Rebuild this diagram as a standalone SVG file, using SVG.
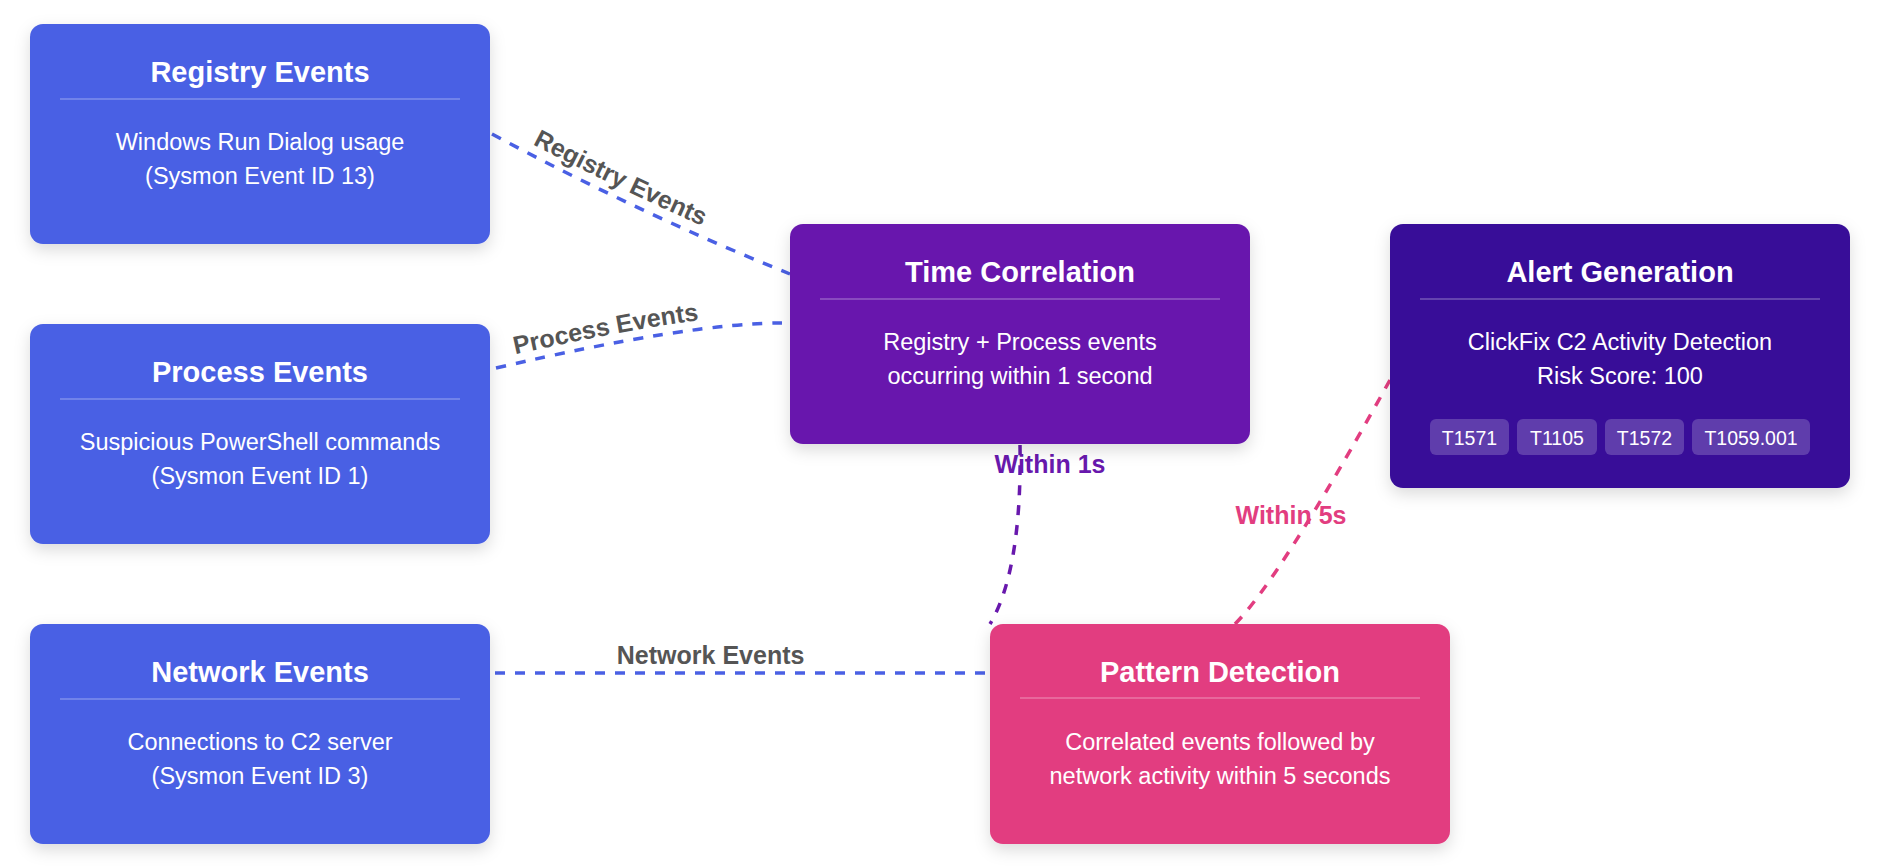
<svg xmlns="http://www.w3.org/2000/svg" width="1880" height="868" viewBox="0 0 1880 868">
  <defs>
    <filter id="shadow" x="-10%" y="-10%" width="120%" height="130%">
      <feDropShadow dx="0" dy="6" stdDeviation="8" flood-color="#000000" flood-opacity="0.14"/>
    </filter>
    <path id="p-reg" d="M 492 134 Q 641 214 790 274"/>
    <path id="p-proc" d="M 496 368 Q 690 323 782 323"/>
    <path id="p-net" d="M 495 673 L 985 673"/>
  </defs>
  <style>
    .box { filter: url(#shadow); }
    .blue { fill: #4a60e4; }
    .purple { fill: #6818ad; }
    .indigo { fill: #371098; }
    .pink { fill: #e23d80; }
    .title { font-family: "Liberation Sans", Arial, sans-serif; font-weight: bold; font-size: 29px; fill: #ffffff; text-anchor: middle; }
    .body { font-family: "Liberation Sans", Arial, sans-serif; font-size: 23.5px; fill: #ffffff; text-anchor: middle; }
    .divider { stroke: #ffffff; stroke-opacity: 0.3; stroke-width: 1.6; }
    .tag { fill: #ffffff; fill-opacity: 0.2; }
    .tagtext { font-family: "Liberation Sans", Arial, sans-serif; font-size: 19.5px; fill: #ffffff; text-anchor: middle; }
    .conn { fill: none; stroke-width: 3.5; stroke-dasharray: 10 10; }
    .c-blue { stroke: #4a60e4; }
    .c-purple { stroke: #6818ad; }
    .c-pink { stroke: #e23d80; }
    .label { font-family: "Liberation Sans", Arial, sans-serif; font-weight: bold; font-size: 25px; text-anchor: middle; }
    .l-gray { fill: #555555; }
    .l-purple { fill: #6818ad; }
    .l-pink { fill: #e23d80; }
  </style>

  <g id="connectors">
    <use href="#p-reg" class="conn c-blue"/>
    <use href="#p-proc" class="conn c-blue"/>
    <use href="#p-net" class="conn c-blue"/>
    <path class="conn c-purple" d="M 1020 445 Q 1022 570 990 624"/>
    <path class="conn c-pink" d="M 1235 624 Q 1279 580 1390 380"/>
    <text class="label l-gray" dy="-10"><textPath href="#p-reg" startOffset="41%">Registry Events</textPath></text>
    <text class="label l-gray" dy="-9"><textPath href="#p-proc" startOffset="39.5%">Process Events</textPath></text>
    <text class="label l-gray" dy="-9"><textPath href="#p-net" startOffset="44%">Network Events</textPath></text>
    <text class="label l-purple" x="1050" y="473">Within 1s</text>
    <text class="label l-pink" x="1291" y="524">Within 5s</text>
  </g>

  <g id="node-registry">
    <rect class="box blue" x="30" y="24" width="460" height="220" rx="13"/>
    <text class="title" x="260" y="82">Registry Events</text>
    <line class="divider" x1="60" y1="99" x2="460" y2="99"/>
    <text class="body" x="260" y="150">Windows Run Dialog usage</text>
    <text class="body" x="260" y="184">(Sysmon Event ID 13)</text>
  </g>

  <g id="node-process">
    <rect class="box blue" x="30" y="324" width="460" height="220" rx="13"/>
    <text class="title" x="260" y="382">Process Events</text>
    <line class="divider" x1="60" y1="399" x2="460" y2="399"/>
    <text class="body" x="260" y="450">Suspicious PowerShell commands</text>
    <text class="body" x="260" y="484">(Sysmon Event ID 1)</text>
  </g>

  <g id="node-network">
    <rect class="box blue" x="30" y="624" width="460" height="220" rx="13"/>
    <text class="title" x="260" y="682">Network Events</text>
    <line class="divider" x1="60" y1="699" x2="460" y2="699"/>
    <text class="body" x="260" y="750">Connections to C2 server</text>
    <text class="body" x="260" y="784">(Sysmon Event ID 3)</text>
  </g>

  <g id="node-time-correlation">
    <rect class="box purple" x="790" y="224" width="460" height="220" rx="13"/>
    <text class="title" x="1020" y="282">Time Correlation</text>
    <line class="divider" x1="820" y1="299" x2="1220" y2="299"/>
    <text class="body" x="1020" y="350">Registry + Process events</text>
    <text class="body" x="1020" y="384">occurring within 1 second</text>
  </g>

  <g id="node-alert">
    <rect class="box indigo" x="1390" y="224" width="460" height="264" rx="13"/>
    <text class="title" x="1620" y="282">Alert Generation</text>
    <line class="divider" x1="1420" y1="299" x2="1820" y2="299"/>
    <text class="body" x="1620" y="350">ClickFix C2 Activity Detection</text>
    <text class="body" x="1620" y="384">Risk Score: 100</text>
    <rect class="tag" x="1430" y="419" width="79" height="36" rx="6"/>
    <text class="tagtext" x="1469.5" y="445">T1571</text>
    <rect class="tag" x="1517" y="419" width="80" height="36" rx="6"/>
    <text class="tagtext" x="1557" y="445">T1105</text>
    <rect class="tag" x="1605" y="419" width="79" height="36" rx="6"/>
    <text class="tagtext" x="1644.5" y="445">T1572</text>
    <rect class="tag" x="1692" y="419" width="118" height="36" rx="6"/>
    <text class="tagtext" x="1751" y="445">T1059.001</text>
  </g>

  <g id="node-pattern">
    <rect class="box pink" x="990" y="624" width="460" height="220" rx="13"/>
    <text class="title" x="1220" y="682">Pattern Detection</text>
    <line class="divider" x1="1020" y1="698" x2="1420" y2="698"/>
    <text class="body" x="1220" y="750">Correlated events followed by</text>
    <text class="body" x="1220" y="784">network activity within 5 seconds</text>
  </g>
</svg>
